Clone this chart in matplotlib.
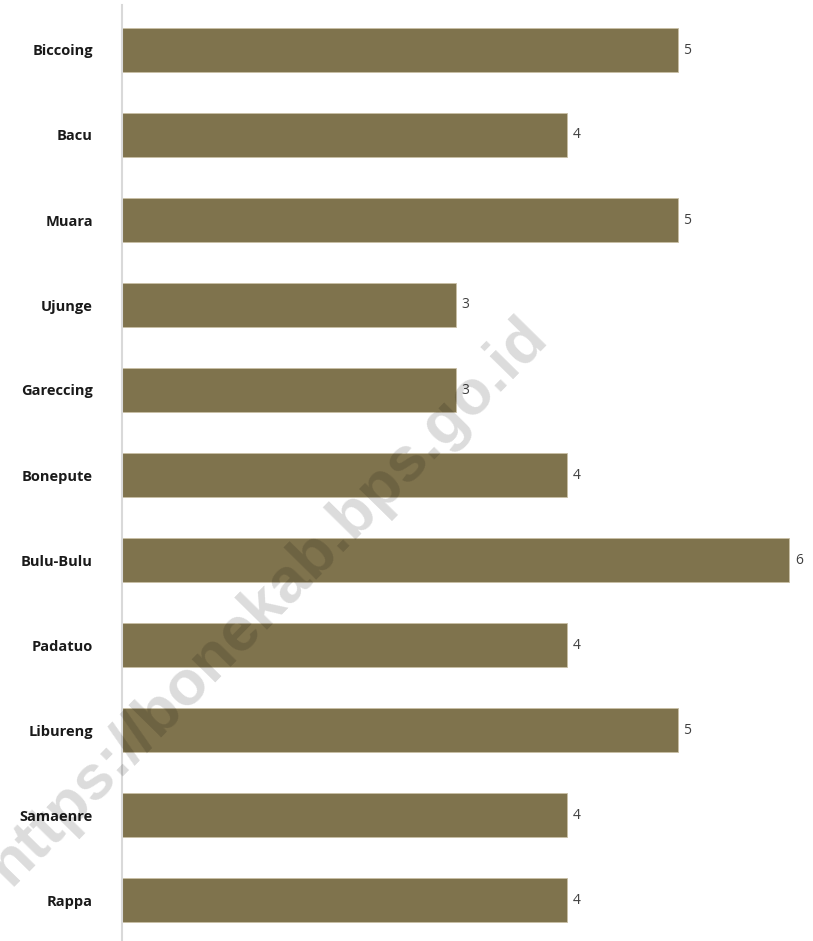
import matplotlib
matplotlib.use('Agg')
import matplotlib.pyplot as plt

kecamatan = ['Biccoing', 'Bacu', 'Muara', 'Ujunge', 'Gareccing', 'Bonepute',
             'Bulu-Bulu', 'Padatuo', 'Libureng', 'Samaenre', 'Rappa']
jumlah = [5, 4, 5, 3, 3, 4, 6, 4, 5, 4, 4]

warna_bar = '#7f734d'

fig = plt.figure(figsize=(8.13, 9.41), dpi=100)
fig.set_facecolor('white')

ax = fig.add_axes([122 / 813, 0, 691 / 813, 1])

posisi = list(range(len(kecamatan)))
bars = ax.barh(posisi, jumlah, height=0.52, color=warna_bar,
               edgecolor='#c9c0a6', linewidth=0.6, zorder=2)

ax.set_xlim(0, 691 / 111.2)
ax.set_ylim((941 - 50) / 85, -50 / 85)

ax.set_yticks(posisi)
ax.set_yticklabels(kecamatan, fontsize=10.5, fontweight='bold',
                   family='Open Sans', color='#1a1a1a')
ax.tick_params(axis='y', length=0, pad=21)
ax.set_xticks([])

for s in ['top', 'right', 'bottom']:
    ax.spines[s].set_visible(False)
ax.spines['left'].set_color('#d9d9d9')
ax.spines['left'].set_linewidth(1.5)
ax.spines['left'].set_bounds((941 - 50) / 85, -45 / 85)

for b, v in zip(bars, jumlah):
    ax.annotate(str(v), (b.get_width(), b.get_y() + b.get_height() / 2),
                xytext=(4, 0), textcoords='offset points', ha='left', va='center',
                fontsize=10, family='Open Sans', color='#404040')

# watermark transparan di atas grafik
fig.text(268 / 813, 1 - 601 / 941, 'https://bonekab.bps.go.id', fontsize=45.5, fontweight='bold',
         family='Liberation Sans', color='black', alpha=0.14, rotation=45.5,
         ha='center', va='center', zorder=5)

fig.savefig('out.png', dpi=100)
